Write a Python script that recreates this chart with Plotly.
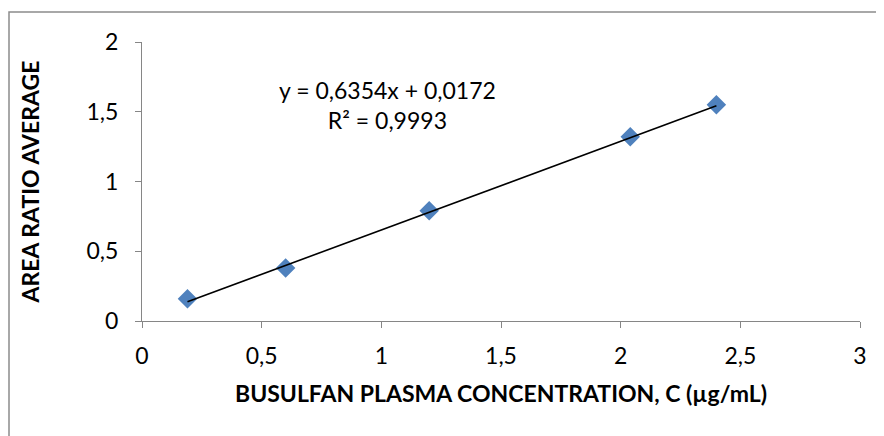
import numpy as np
import plotly.graph_objects as go

# data
concentration = [0.19, 0.60, 1.20, 2.04, 2.40]
area_ratio = [0.16, 0.38, 0.79, 1.32, 1.55]
slope = 0.6354
intercept = 0.0172
r_squared = "0,9993"
x_ticks = [0, 0.5, 1, 1.5, 2, 2.5, 3]
y_ticks = [0, 0.5, 1, 1.5, 2]

FONT = "Lato"
FS = 23

W, H = 876, 428
L, R, T, B = 134, 24, 34, 115
PW, PH = W - L - R, H - T - B


def px_x(v):
    return (v - L) / PW


def px_y(v):
    return (T + PH - v) / PH


fit_x = np.array([min(concentration), max(concentration)])
fit_y = slope * fit_x + intercept

fig = go.Figure()
fig.add_trace(go.Scatter(
    x=concentration, y=area_ratio, mode="markers",
    marker=dict(symbol="diamond", size=15, color="#4F81BD"),
    showlegend=False, hoverinfo="x+y"))
fig.add_trace(go.Scatter(
    x=fit_x, y=fit_y, mode="lines",
    line=dict(color="black", width=1.6), showlegend=False))

axis_common = dict(
    showgrid=False, zeroline=False, showline=True, linecolor="#868686",
    linewidth=1, ticks="outside", ticklen=6, tickcolor="#868686",
    tickfont=dict(family=FONT, size=FS, color="black"),
)
fig.update_xaxes(range=[0, 3], tickvals=x_ticks, ticklabelstandoff=8,
                 title=dict(text="<b>BUSULFAN PLASMA CONCENTRATION, C (µg/mL)</b>",
                            font=dict(family=FONT, size=FS, color="black"),
                            standoff=18),
                 **axis_common)
fig.update_yaxes(range=[0, 2], tickvals=y_ticks, ticklabelstandoff=12,
                 title=dict(text="<b>AREA RATIO AVERAGE</b>",
                            font=dict(family=FONT, size=FS, color="black"),
                            standoff=40),
                 **axis_common)

fig.add_annotation(
    xref="paper", yref="paper", x=px_x(379), y=px_y(97),
    xanchor="center", yanchor="middle",
    text=f"y = {str(slope).replace('.', ',')}x + {str(intercept).replace('.', ',')}<br>R² = {r_squared}",
    showarrow=False, align="center",
    font=dict(family=FONT, size=FS, color="black"))

fig.add_shape(type="rect", xref="paper", yref="paper",
              x0=px_x(1), x1=px_x(890),
              y0=px_y(440), y1=px_y(4),
              line=dict(color="#8C8C8C", width=1.5), layer="below")

fig.update_layout(
    width=W, height=H,
    margin=dict(l=L, r=R, t=T, b=B, autoexpand=False),
    paper_bgcolor="white", plot_bgcolor="white",
    separators=", ",
    font=dict(family=FONT),
)

fig.write_html("out.html")
